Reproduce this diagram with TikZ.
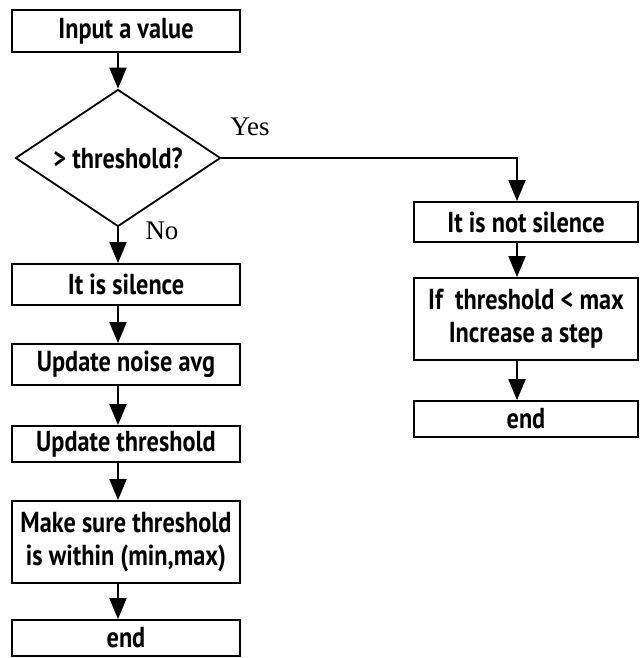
\documentclass[tikz,border=0pt]{standalone}
\usepackage{fontspec}
\setmainfont{PT Sans}[FakeStretch=0.84]
\newfontfamily\labelfont{Liberation Serif}
\usetikzlibrary{arrows.meta,shapes.geometric}
\begin{document}
\begin{tikzpicture}[x=1bp,y=-1bp,
  box/.style={draw,line width=1.8bp,inner sep=0pt,align=center,
    font=\fontsize{29}{33}\selectfont\bfseries},
  lbox/.style={box,minimum width=228bp},
  rbox/.style={box,minimum width=224bp},
  decision/.style={draw,diamond,aspect=1.5,line width=1.8bp,inner sep=1pt,
    minimum width=205bp,minimum height=137bp,
    font=\fontsize{29}{33}\selectfont\bfseries},
  flow/.style={line width=2bp,-{Triangle[width=17bp,length=21bp]}},
  lbl/.style={font=\labelfont\fontsize{27}{30}\selectfont}]
\useasboundingbox (0,0) rectangle (640,658);

% left column
\node[lbox,minimum height=42bp] (input) at (126,31) {Input a value};
\node[decision] (test) at (118,158) {> threshold?};
\node[lbox,minimum height=41bp] (silence) at (126,284.5) {It is silence};
\node[lbox,minimum height=41bp] (noise) at (126,364.5) {Update noise avg};
\node[lbox,minimum height=36bp] (thresh) at (126,444) {Update threshold};
\node[lbox,minimum height=82bp] (clamp) at (126,542) {Make sure threshold\\is within (min,max)};
\node[lbox,minimum height=36bp] (endl) at (126,638) {end};

% right column
\node[rbox,minimum height=40bp] (notsil) at (526,222) {It is not silence};
\node[rbox,minimum height=82bp] (raise) at (526,319) {If~~threshold < max\\Increase a step};
\node[rbox,minimum height=36bp] (endr) at (526,419) {end};

% branch labels
\node[lbl] (yes) at (250,127) {Yes};
\node[lbl] (no) at (162,231) {No};

% arrow columns
\coordinate (lx) at (118,0);
\coordinate (rx) at (517,0);

% connectors
\draw[flow] (input.south -| lx) -- (test.north);
\draw[flow] (test.south) -- (silence.north -| lx);
\draw[flow] (silence.south -| lx) -- (noise.north -| lx);
\draw[flow] (noise.south -| lx) -- (thresh.north -| lx);
\draw[flow] (thresh.south -| lx) -- (clamp.north -| lx);
\draw[flow] (clamp.south -| lx) -- (endl.north -| lx);

\draw[flow] (test.east) -| (notsil.north -| rx);
\draw[flow] (notsil.south -| rx) -- (raise.north -| rx);
\draw[flow] (raise.south -| rx) -- (endr.north -| rx);
\end{tikzpicture}
\end{document}
